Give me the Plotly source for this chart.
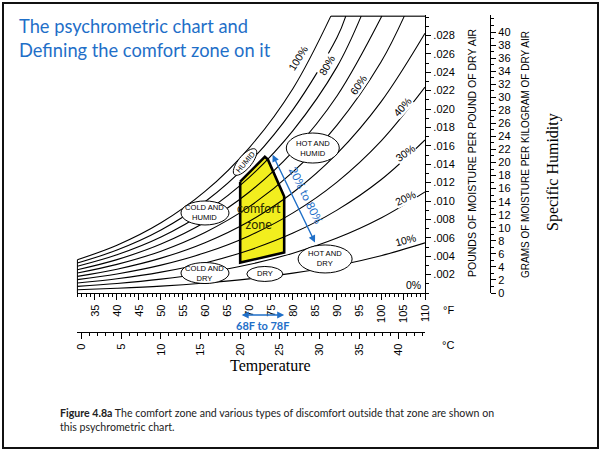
import numpy as np
import plotly.graph_objects as go

W_PX, H_PX = 602, 452

# ---------------- data ----------------
temp_f = [31, 40, 50, 60, 70, 80, 90, 100, 110]
rh10 = [0.00036, 0.00052, 0.00075, 0.00109, 0.00154, 0.00216, 0.00297, 0.00405, 0.00545]
rh20 = [0.00072, 0.00103, 0.00151, 0.00218, 0.00309, 0.00433, 0.00597, 0.00815, 0.01099]
rh30 = [0.00108, 0.00155, 0.00227, 0.00327, 0.00465, 0.00651, 0.00901, 0.01231, 0.01664]
rh40 = [0.00145, 0.00207, 0.00303, 0.00437, 0.00621, 0.00871, 0.01206, 0.01651, 0.02238]
rh50 = [0.00181, 0.00259, 0.00379, 0.00547, 0.00778, 0.01092, 0.01515, 0.02078, 0.02824]
rh60_t = [31, 40, 50, 60, 70, 80, 90, 100, 105.3]
rh60 = [0.00217, 0.00311, 0.00455, 0.00658, 0.00936, 0.01316, 0.01826, 0.02511, 0.0301]
rh70_t = [31, 40, 50, 60, 70, 80, 90, 100.2]
rh70 = [0.00253, 0.00363, 0.00532, 0.00769, 0.01095, 0.01540, 0.02141, 0.0301]
rh80_t = [31, 40, 50, 60, 70, 80, 90, 95.5]
rh80 = [0.00290, 0.00415, 0.00608, 0.00880, 0.01255, 0.01766, 0.02458, 0.0301]
rh90_t = [31, 40, 50, 60, 70, 80, 90, 92.0]
rh90 = [0.00326, 0.00467, 0.00685, 0.00992, 0.01415, 0.01994, 0.02777, 0.0301]
rh100_t = [31, 40, 50, 60, 70, 80, 88.6]
rh100 = [0.00362, 0.00519, 0.00763, 0.01104, 0.01576, 0.02224, 0.0301]

curves = [
    (temp_f, rh10), (temp_f, rh20), (temp_f, rh30), (temp_f, rh40), (temp_f, rh50),
    (rh60_t, rh60), (rh70_t, rh70), (rh80_t, rh80), (rh90_t, rh90), (rh100_t, rh100),
]

# comfort zone polygon (deg F, lb/lb)
zone_t = [68, 73.6, 74.3, 78, 78, 68, 68]
zone_w = [0.0121, 0.0148, 0.0145, 0.0105, 0.0044, 0.0033, 0.0121]

# curve labels
rh_labels = ["100%", "80%", "60%", "40%", "30%", "20%", "10%", "0%"]
rh_label_t = [81.1, 87.7, 94.8, 104.8, 105.5, 105.5, 105.5, 107.3]
rh_label_w = [0.0256, 0.0248, 0.0226, 0.0202, 0.0152, 0.0103, 0.0058, 0.0009]
rh_label_ang = [-58, -60, -56, -48, -35, -25, -15, 0]

# discomfort regions (ellipses)
reg_text = ["HOT AND<br>HUMID", "COLD AND<br>HUMID", "COLD AND<br>DRY", "DRY", "HOT AND<br>DRY"]
reg_t = [84.5, 60.0, 60.0, 73.6, 87.3]
reg_w = [0.01576, 0.0087, 0.00217, 0.00207, 0.0037]
reg_size = [(53, 30), (48, 24), (48, 21), (36, 15), (54, 28)]

# axes
f_ticks = list(range(35, 111, 5))
c_ticks = list(range(0, 41, 5))
lb_ticks = [0.002 * i for i in range(1, 15)]
lb_text = [".%03d" % (2 * i) for i in range(1, 15)]
g_ticks = list(range(0, 41, 2))

X_RANGE = [30.8, 110]
Y_RANGE = [0, 0.0302]

# ---------------- helpers ----------------
def pxx(x):
    return x / W_PX

def pxy(y):
    return 1 - y / H_PX

X_DOM = [pxx(76.5), pxx(425)]
Y_DOM = [pxy(293), pxy(15.2)]

fig = go.Figure()

# comfort zone fill
fig.add_trace(go.Scatter(x=zone_t, y=zone_w, mode="lines", fill="toself",
                         fillcolor="#f2ee1e", line=dict(width=0),
                         hoverinfo="skip", showlegend=False))

for t, w in curves:
    fig.add_trace(go.Scatter(x=t, y=w, mode="lines", line=dict(color="black", width=1.1, shape="spline"),
                             hoverinfo="skip", showlegend=False))

# partial borders: top (from 100% curve to right edge) and left edge
fig.add_trace(go.Scatter(x=[rh100_t[-1], X_RANGE[1]], y=[rh100[-1], rh100[-1]], mode="lines",
                         line=dict(color="black", width=1.3), hoverinfo="skip", showlegend=False))
fig.add_trace(go.Scatter(x=[temp_f[0], temp_f[0]], y=[0, rh100[0]], mode="lines",
                         line=dict(color="black", width=1.1), hoverinfo="skip", showlegend=False))

# comfort zone outline
fig.add_trace(go.Scatter(x=zone_t, y=zone_w, mode="lines",
                         line=dict(color="black", width=2.6), hoverinfo="skip", showlegend=False))

# dummy traces to activate second axes
fig.add_trace(go.Scatter(x=[0, 40], y=[None, None], xaxis="x2", yaxis="y", showlegend=False, hoverinfo="skip"))
fig.add_trace(go.Scatter(x=[None, None], y=[0, 40], xaxis="x", yaxis="y2", showlegend=False, hoverinfo="skip"))

shapes = []
annotations = []

for txt, t, w, (ew, eh) in zip(reg_text, reg_t, reg_w, reg_size):
    shapes.append(dict(type="circle", xref="x", yref="y", xsizemode="pixel", ysizemode="pixel",
                       xanchor=t, yanchor=w, x0=-ew / 2, x1=ew / 2, y0=-eh / 2, y1=eh / 2,
                       fillcolor="white", line=dict(color="black", width=1)))
    annotations.append(dict(x=t, y=w, xref="x", yref="y", text=txt, showarrow=False,
                            font=dict(family="Liberation Sans, Arial", size=7.6, color="black")))

# rotated HUMID ellipse
ang = np.deg2rad(50)
th = np.linspace(0, 2 * np.pi, 40)
ex = 16.5 * np.cos(th) * np.cos(ang) - 6.5 * np.sin(th) * np.sin(ang)
ey = 16.5 * np.cos(th) * np.sin(ang) + 6.5 * np.sin(th) * np.cos(ang)
path = "M " + " L ".join("%.2f,%.2f" % (a, b) for a, b in zip(ex, ey)) + " Z"
shapes.append(dict(type="path", xref="x", yref="y", xsizemode="pixel", ysizemode="pixel",
                   xanchor=69.1, yanchor=0.01424, path=path, fillcolor="white",
                   line=dict(color="black", width=1)))
annotations.append(dict(x=69.1, y=0.01424, xref="x", yref="y", text="HUMID", showarrow=False,
                        textangle=-50, font=dict(family="Liberation Sans, Arial", size=7.5, color="black")))

for txt, t, w, a in zip(rh_labels, rh_label_t, rh_label_w, rh_label_ang):
    annotations.append(dict(x=t, y=w, xref="x", yref="y", text=txt, showarrow=False, textangle=a,
                            bgcolor="white", borderpad=0,
                            font=dict(family="Liberation Sans, Arial", size=10.5, color="black")))

# comfort zone text
annotations.append(dict(x=72.3, y=0.0083, xref="x", yref="y", text="comfort<br>zone", showarrow=False,
                        font=dict(family="Lato, Open Sans", size=12.5, color="#2b2b00")))

BLUE = "#1f6fc8"
# 20% to 80% arrow
annotations.append(dict(x=85.0, y=0.0055, ax=75.2, ay=0.0152, xref="x", yref="y", axref="x", ayref="y",
                        text="", showarrow=True, arrowhead=2, arrowside="end+start", arrowsize=1,
                        arrowwidth=1.4, arrowcolor=BLUE))
annotations.append(dict(x=83.0, y=0.0106, xref="x", yref="y", text="20% to 80%", showarrow=False,
                        textangle=64, font=dict(family="Lato, Open Sans", size=11.5, color=BLUE)))

def paper_text(x, y, text, font, angle=0, xa="center", ya="middle", align="center"):
    return dict(x=pxx(x), y=pxy(y), xref="paper", yref="paper", text=text, textangle=angle,
                showarrow=False, xanchor=xa, yanchor=ya, align=align, font=font)

# 68F to 78F arrow
annotations.append(dict(x=78, y=pxy(315), ax=68, ay=0, xref="x", yref="paper", axref="x", ayref="pixel",
                        text="", showarrow=True, arrowhead=2, arrowside="end+start", arrowsize=1,
                        arrowwidth=1.4, arrowcolor=BLUE))
annotations.append(dict(x=73, y=pxy(325), xref="x", yref="paper", xanchor="center", yanchor="middle",
                        text="<b>68F to 78F</b>", showarrow=False,
                        font=dict(family="Lato, Open Sans", size=11, color=BLUE)))

sans = "Liberation Sans, Arial"
serif = "Liberation Serif, Times New Roman"
annotations += [
    paper_text(17, 13, "The psychrometric chart and<br>Defining the comfort zone on it",
               dict(family="Lato, Open Sans", size=18.3, color=BLUE), xa="left", ya="top", align="left"),
    paper_text(472, 153, "POUNDS OF MOISTURE PER POUND OF DRY AIR", dict(family=sans, size=10.5, color="black"), -90),
    paper_text(525, 155, "GRAMS OF MOISTURE PER KILOGRAM OF DRY AIR", dict(family=sans, size=10, color="black"), -90),
    paper_text(553, 172, "Specific Humidity", dict(family=serif, size=16, color="black"), -90),
    paper_text(270, 366, "Temperature", dict(family=serif, size=16, color="black")),
    paper_text(448, 310, "°F", dict(family=sans, size=11, color="black")),
    paper_text(448, 345, "°C", dict(family=sans, size=11, color="black")),
    paper_text(58, 405,
               "<b>Figure 4.8a</b> The comfort zone and various types of discomfort outside that zone are shown on"
               "<br>this psychrometric chart.",
               dict(family="Lato, Open Sans", size=10.6, color="#222222"), xa="left", ya="top", align="left"),
]

# outer frame
shapes.append(dict(type="rect", xref="paper", yref="paper", x0=pxx(3), x1=pxx(598), y0=pxy(448), y1=pxy(3),
                   line=dict(color="#111111", width=2), layer="below"))

tickfont = dict(family=sans, size=11, color="black")

fig.update_layout(
    width=W_PX, height=H_PX, margin=dict(l=0, r=0, t=0, b=0),
    paper_bgcolor="white", plot_bgcolor="white", showlegend=False,
    shapes=shapes, annotations=annotations,
    xaxis=dict(domain=X_DOM, range=X_RANGE, showgrid=False, zeroline=False, showline=True,
               linecolor="black", linewidth=1.3, ticks="outside", ticklen=6, tickcolor="black",
               tickvals=f_ticks, ticktext=[str(v) for v in f_ticks], tickangle=-90, tickfont=tickfont,
               minor=dict(dtick=1, tick0=0, ticks="outside", ticklen=3, tickcolor="black"),
               anchor="y", automargin=False, fixedrange=True),
    xaxis2=dict(overlaying="x", anchor="free", position=pxy(332), side="bottom",
                range=[(X_RANGE[0] - 32) / 1.8, (X_RANGE[1] - 32) / 1.8], showgrid=False, zeroline=False,
                showline=True, linecolor="black", linewidth=1.3, ticks="outside", ticklen=6, tickcolor="black",
                tickvals=c_ticks, ticktext=[str(v) for v in c_ticks], tickangle=-90, tickfont=tickfont,
                minor=dict(dtick=1, tick0=0, ticks="outside", ticklen=3, tickcolor="black"),
                automargin=False, fixedrange=True),
    yaxis=dict(domain=Y_DOM, range=Y_RANGE, side="right", anchor="x", showgrid=False, zeroline=False,
               showline=True, linecolor="black", linewidth=1.3, ticks="outside", ticklen=5, tickcolor="black",
               tickvals=lb_ticks, ticktext=lb_text, tickfont=tickfont,
               minor=dict(dtick=0.001, tick0=0, ticks="outside", ticklen=3, tickcolor="black"),
               automargin=False, fixedrange=True),
    yaxis2=dict(overlaying="y", anchor="free", position=pxx(490), side="right",
                range=[0, 40 * (293 - 15.2) / (293 - 32)], showgrid=False, zeroline=False,
                showline=True, linecolor="black", linewidth=1.3, ticks="outside", ticklen=5, tickcolor="black",
                tickvals=g_ticks, ticktext=[str(v) for v in g_ticks], tickfont=tickfont,
                minor=dict(dtick=1, tick0=0, ticks="outside", ticklen=3, tickcolor="black"),
                automargin=False, fixedrange=True),
)

fig.write_html("out.html", config={"displayModeBar": False},
               post_script="document.body.style.margin='0';")
